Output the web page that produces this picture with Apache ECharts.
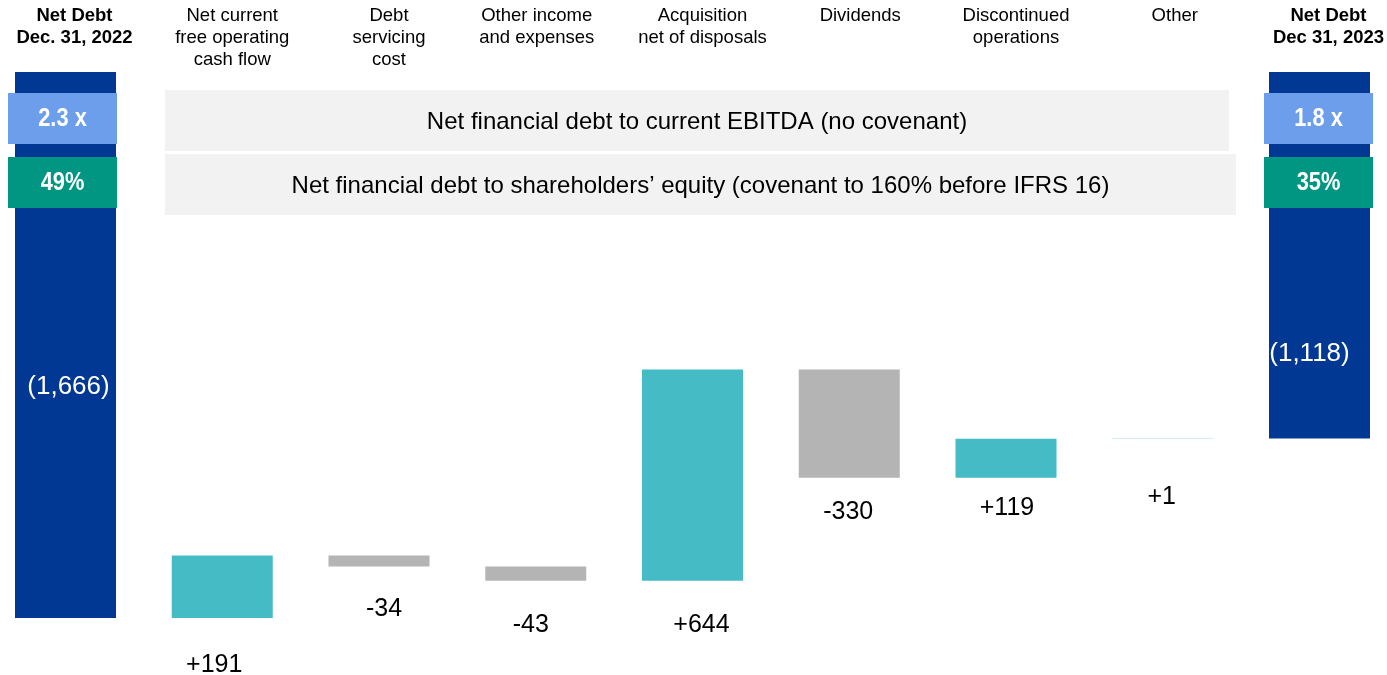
<!DOCTYPE html>
<html>
<head>
<meta charset="utf-8">
<script src="https://cdn.jsdelivr.net/npm/echarts@6/dist/echarts.min.js"></script>
<style>
html,body{margin:0;padding:0;background:#fff;}
#chart{width:1387px;height:675px;}
</style>
</head>
<body>
<div id="chart"></div>
<script>
const categories = ['Net Debt\nDec. 31, 2022', 'Net current\nfree operating\ncash flow', 'Debt\nservicing\ncost', 'Other income\nand expenses', 'Acquisition\nnet of disposals', 'Dividends', 'Discontinued\noperations', 'Other', 'Net Debt\nDec 31, 2023'];
const openingDebt = 1666;
const changes = [191, -34, -43, 644, -330, 119, 1];
const closingDebt = 1118;
const ebitdaRatios = ['2.3 x', '1.8 x'];
const equityRatios = ['49%', '35%'];
const bandTexts = ['Net financial debt to current EBITDA (no covenant)', 'Net financial debt to shareholders\u2019 equity (covenant to 160% before IFRS 16)'];

// styling / layout tweaks (not data)
const C_TOTAL = '#003893', C_UP = '#45BBC5', C_DOWN = '#B4B4B4';
const FONT = "'Liberation Sans', Arial, sans-serif";
const headerShift = [9, 10, 10, 1, 10, 11, 10, 12, 9];
const labelDist = [35, 30, 32, 32, 22, 18, 46];
const labelShiftX = [-8, 5, -5, 9, -1, 1, -1];

const fmtNum = n => n.toLocaleString('en-US');

const baseData = [0];
const barData = [];
barData.push({value: openingDebt, itemStyle: {color: C_TOTAL},
  label: {show: true, position: 'inside', offset: [3, 42], color: '#fff', fontSize: 26, formatter: '(' + fmtNum(openingDebt) + ')'}});
let level = openingDebt;
changes.forEach((c, i) => {
  const next = level - c;
  baseData.push(Math.min(level, next));
  barData.push({value: Math.abs(c), itemStyle: {color: c > 0 ? C_UP : C_DOWN},
    label: {show: true, position: 'bottom', distance: labelDist[i], offset: [labelShiftX[i], 0], color: '#000', fontSize: 25,
      formatter: (c > 0 ? '+' : '-') + fmtNum(Math.abs(c))}});
  level = next;
});
baseData.push(0);
barData.push({value: closingDebt, itemStyle: {color: C_TOTAL},
  label: {show: true, position: 'inside', offset: [-10, 99], color: '#fff', fontSize: 26, formatter: '(' + fmtNum(closingDebt) + ')'}});

const boldIdx = [0, categories.length - 1];
const rich = {};
headerShift.forEach((s, i) => {
  rich['s' + i] = {width: s * 2, fontSize: 18.5, lineHeight: 22};
});
rich.b = {fontWeight: 'bold', fontSize: 18.5, lineHeight: 22, color: '#000', fontFamily: FONT};
rich.n = {fontSize: 18.5, lineHeight: 22, color: '#000', fontFamily: FONT};

const chart = echarts.init(document.getElementById('chart'));
const graphics = [];
function band(x, y, w, h, txt) {
  graphics.push({type: 'rect', z: 100, shape: {x: x, y: y, width: w, height: h}, style: {fill: '#F2F2F2'}});
  graphics.push({type: 'text', z: 101, x: x + w / 2, y: y + h / 2 + 2,
    style: {text: txt, fill: '#000', font: '24px ' + FONT, textAlign: 'center', textVerticalAlign: 'middle'}});
}
function box(x, y, w, h, color, txt) {
  graphics.push({type: 'rect', z: 100, shape: {x: x, y: y, width: w, height: h}, style: {fill: color}});
  graphics.push({type: 'text', z: 101, x: x + w / 2, y: y + h / 2, scaleX: 0.84,
    style: {text: txt, fill: '#fff', font: 'bold 26px ' + FONT, textAlign: 'center', textVerticalAlign: 'middle'}});
}
band(165, 90, 1064, 61, bandTexts[0]);
band(165, 154, 1071, 61, bandTexts[1]);
box(8, 93, 109, 51, '#6D9EEB', ebitdaRatios[0]);
box(8, 157, 109, 51, '#009682', equityRatios[0]);
box(1264, 93, 109, 51, '#6D9EEB', ebitdaRatios[1]);
box(1264, 157, 109, 51, '#009682', equityRatios[1]);

chart.setOption({
  animation: false,
  textStyle: {fontFamily: FONT},
  grid: {left: 65.5, right: 67.5, top: 72, bottom: 57, containLabel: false, outerBoundsMode: 'none'},
  xAxis: {
    type: 'category', data: categories, position: 'top', boundaryGap: false,
    axisLine: {show: false}, axisTick: {show: false}, splitLine: {show: false},
    axisLabel: {
      interval: 0, margin: 67, verticalAlign: 'top', color: '#000', fontSize: 18.5, lineHeight: 22, fontFamily: FONT,
      formatter: (v, idx) => {
        const tag = boldIdx.includes(idx) ? 'b' : 'n';
        return v.split('\n').map(s => '{s' + idx + '| }{' + tag + '|' + s + '}').join('\n');
      },
      rich: rich
    }
  },
  yAxis: {type: 'value', min: 0, max: openingDebt, inverse: true, show: false, splitLine: {show: false}},
  series: [
    {type: 'bar', stack: 'w', data: baseData, barWidth: 101, clip: false, itemStyle: {color: 'transparent'}, silent: true},
    {type: 'bar', stack: 'w', data: barData, barWidth: 101, clip: false}
  ],
  graphic: graphics
});
</script>
</body>
</html>
